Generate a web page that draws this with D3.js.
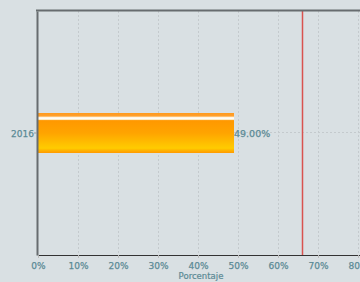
<!DOCTYPE html>
<html><head><meta charset="utf-8">
<script src="https://cdn.jsdelivr.net/npm/d3@7"></script>
<style>html,body{margin:0;padding:0;background:#d9e0e3;}svg{display:block;}</style>
</head><body>
<script>
const categories = ["2016"];
const values = [49];
const referenceLine = [66];
const xTicks = [0,10,20,30,40,50,60,70,80];
const axisTitle = "Porcentaje";

const W = 360, H = 282;
const m = {left: 38, top: 11, right: 0, bottom: 27};
const svg = d3.select("body").append("svg").attr("width", W).attr("height", H);
svg.append("rect").attr("width", W).attr("height", H).attr("fill", "#d9e0e3");

const defs = svg.append("defs");
const g1 = defs.append("linearGradient").attr("id","barGrad").attr("x1",0).attr("y1",0).attr("x2",0).attr("y2",1);
[[0,"#ff9a1a"],[0.08,"#ffa030"],[0.1,"#fff0d0"],[0.13,"#ffffff"],[0.16,"#fff0d0"],[0.19,"#ff9800"],[0.5,"#ffa400"],[0.88,"#ffcc00"],[0.93,"#ffb400"],[1,"#ff9a00"]]
  .forEach(([o,c]) => g1.append("stop").attr("offset",o).attr("stop-color",c));

const x = d3.scaleLinear().domain([0, 80.5]).range([m.left, m.left + 322]);
const y = d3.scaleBand().domain(categories).range([m.top, H - m.bottom]).paddingInner(0).paddingOuter(2.55);

const font = "'DejaVu Sans', Verdana, sans-serif";
const textColor = "#5b8a95";

// vertical grid
svg.append("g").selectAll("line").data(xTicks.slice(1)).join("line")
  .attr("x1", d => x(d) + 0.5).attr("x2", d => x(d) + 0.5)
  .attr("y1", m.top).attr("y2", H - m.bottom)
  .attr("stroke", "#c4cacd").attr("stroke-dasharray", "2,2");
// horizontal grid through category
svg.append("g").selectAll("line").data(categories).join("line")
  .attr("x1", m.left).attr("x2", W)
  .attr("y1", d => Math.round(y(d) + y.bandwidth()/2) - 0.5)
  .attr("y2", d => Math.round(y(d) + y.bandwidth()/2) - 0.5)
  .attr("stroke", "#c4cacd").attr("stroke-dasharray", "2,2");

// bars
svg.append("g").selectAll("rect").data(values).join("rect")
  .attr("x", x(0)).attr("y", (d,i) => y(categories[i]))
  .attr("width", d => x(d) - x(0)).attr("height", y.bandwidth())
  .attr("fill", "url(#barGrad)");

// value labels
svg.append("g").selectAll("text").data(values).join("text")
  .attr("x", d => x(d)).attr("y", (d,i) => y(categories[i]) + y.bandwidth()/2 + 4)
  .attr("font-family", font).attr("font-size", 9.5).attr("fill", textColor)
  .attr("stroke", textColor).attr("stroke-width", 0.25)
  .text(d => d.toFixed(2) + "%");

// reference line
svg.append("g").selectAll("line").data(referenceLine).join("line")
  .attr("x1", d => x(d) + 0.5).attr("x2", d => x(d) + 0.5)
  .attr("y1", m.top).attr("y2", H - m.bottom)
  .attr("stroke", "#d9534f").attr("stroke-width", 1.5);

// top border
svg.append("line").attr("x1", m.left - 2).attr("x2", W).attr("y1", m.top - 0.5).attr("y2", m.top - 0.5)
  .attr("stroke", "#676c6f").attr("stroke-width", 2);

// x axis
const xAxis = svg.append("g").attr("transform", `translate(0,${H - m.bottom})`)
  .call(d3.axisBottom(x).tickValues(xTicks).tickFormat(d => d + "%").tickSize(3).tickSizeOuter(0));
xAxis.select(".domain").attr("stroke", "#333");
xAxis.selectAll(".tick line").attr("stroke", "#bbb");
xAxis.selectAll("text").attr("font-family", font).attr("font-size", 9).attr("fill", textColor)
  .attr("stroke", textColor).attr("stroke-width", 0.25).attr("dy", "0.85em");

// y axis
const yAxis = svg.append("g").attr("transform", `translate(${m.left - 1},0)`)
  .call(d3.axisLeft(y).tickSize(3).tickSizeOuter(0));
yAxis.select(".domain").attr("stroke", "#676c6f").attr("stroke-width", 2);
yAxis.selectAll(".tick line").attr("stroke", "#999");
yAxis.selectAll("text").attr("font-family", font).attr("font-size", 9).attr("fill", textColor)
  .attr("stroke", textColor).attr("stroke-width", 0.25).attr("x", -3).attr("dy", "0.4em");

svg.append("text").attr("x", 201).attr("y", 279).attr("text-anchor", "middle")
  .attr("font-family", font).attr("font-size", 8.5).attr("fill", textColor)
  .attr("stroke", textColor).attr("stroke-width", 0.2).text(axisTitle);
</script>
</body></html>
